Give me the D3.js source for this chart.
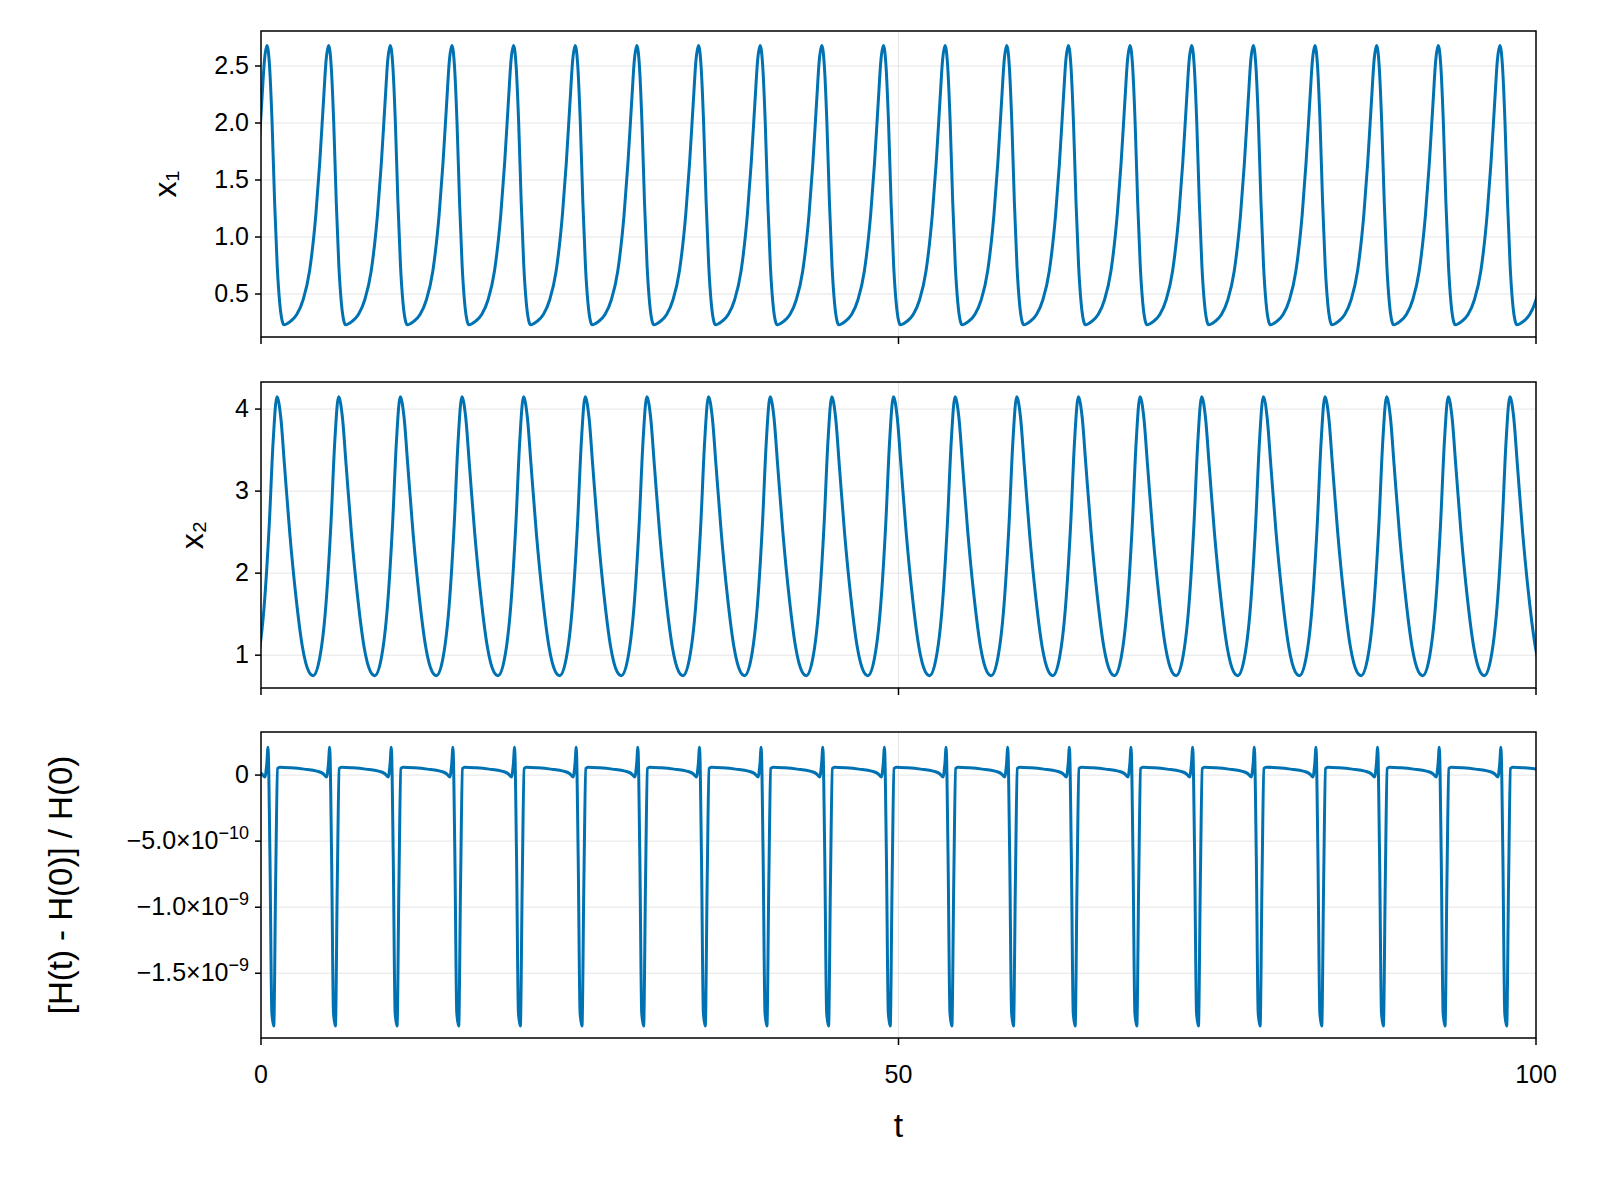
<!DOCTYPE html>
<html><head><meta charset="utf-8">
<script src="https://cdn.jsdelivr.net/npm/d3@7"></script>
<style>body{margin:0;background:#fff;font-family:"Liberation Sans",Arial,sans-serif}</style>
</head><body><svg id="chart"></svg>
<script>
// one measured cycle per series, offsets in t relative to each peak
const period = 4.835;
const x1Peaks0 = 0.47, x2Peaks0 = 1.25, hPeaks0 = 0.55, nCycles = 22;
const x1Off = [-3.5,-3,-2.5,-2,-1.5,-1,-0.7,-0.4,-0.2,0,0.2,0.4,0.6,0.8,1.0,1.2,1.335];
const x1Val = [0.23,0.26,0.32,0.45,0.7,1.2,1.65,2.2,2.55,2.68,2.5,2.0,1.3,0.75,0.42,0.26,0.23];
const x2Off = [-2.0,-1.5,-1,-0.6,-0.3,0,0.3,0.6,1,1.5,2,2.5,2.835];
const x2Val = [0.75,0.95,1.6,2.6,3.6,4.15,3.9,3.3,2.5,1.7,1.1,0.8,0.75];
const hOff = [-3.9,-3,-2,-1,-0.5,-0.25,-0.1,0,0.15,0.3,0.45,0.6,0.75,0.935];
const hVal = [0.6,0.55,0.45,0.3,0.1,-0.15,0.8,2.1,-6,-18,-19,-8,0.5,0.6].map(v => v*1e-10);
const xTicks = [0,50,100];
const x1Ticks = [0.5,1.0,1.5,2.0,2.5];
const x2Ticks = [1,2,3,4];
const hTicks = [0,-5e-10,-1e-9,-1.5e-9];
const hTickLabels = [["0",""],["−5.0×10","−10"],["−1.0×10","−9"],["−1.5×10","−9"]];

function series(p0, off, val) {
  let pts = [];
  for (let k = -1; k < nCycles; k++) {
    const pk = p0 + k*period;
    off.forEach((o,i) => { if (i > 0 || k === -1) pts.push({t: pk+o, v: val[i]}); });
  }
  return pts;
}

const W = 1600, H = 1200, left = 261, right = 1536;
const svg = d3.select("#chart").attr("width", W).attr("height", H);
const x = d3.scaleLinear().domain([0,100]).range([left,right]);
const color = "#0072b2";
svg.append("clipPath").attr("id","clip").append("rect")
  .attr("x", left).attr("y", 0).attr("width", right-left).attr("height", H);

const panels = [
  {top:31, bottom:337, dom:[0.123,2.807], ticks:x1Ticks, fmt:d=>[d.toFixed(1),""], data:series(x1Peaks0,x1Off,x1Val), label:"x₁", lsize:32, lx:176},
  {top:382, bottom:688, dom:[0.6,4.33], ticks:x2Ticks, fmt:d=>[String(d),""], data:series(x2Peaks0,x2Off,x2Val), label:"x₂", lsize:32, lx:203},
  {top:732, bottom:1038, dom:[-1.99e-9,3.26e-10], ticks:hTicks, fmt:(d,i)=>hTickLabels[i], data:series(hPeaks0,hOff,hVal), label:"[H(t) - H(0)] / H(0)", lsize:33, lx:72}
];

panels.forEach((p, pi) => {
  const y = d3.scaleLinear().domain(p.dom).range([p.bottom,p.top]);
  const g = svg.append("g");
  g.selectAll(".hg").data(p.ticks).join("line")
    .attr("x1", left).attr("x2", right).attr("y1", d=>y(d)).attr("y2", d=>y(d))
    .attr("stroke", "#e5e5e5").attr("stroke-width", 1);
  g.append("line").attr("x1", x(50)).attr("x2", x(50)).attr("y1", p.top).attr("y2", p.bottom)
    .attr("stroke", "#e5e5e5");
  g.append("path").datum(p.data.filter(d => d.t > -2 && d.t < 102))
    .attr("clip-path","url(#clip)")
    .attr("fill","none").attr("stroke",color).attr("stroke-width",3)
    .attr("d", d3.line().curve(d3.curveMonotoneX).x(d=>x(d.t)).y(d=>y(d.v)));
  g.append("rect").attr("x", left).attr("y", p.top).attr("width", right-left).attr("height", p.bottom-p.top)
    .attr("fill","none").attr("stroke","#000").attr("stroke-width",1.5);
  p.ticks.forEach((d,i) => {
    g.append("line").attr("x1", left-6).attr("x2", left).attr("y1", y(d)).attr("y2", y(d)).attr("stroke","#000").attr("stroke-width",1.5);
    const [a,b] = p.fmt(d,i);
    const t = g.append("text").attr("x", left-12).attr("y", y(d)+8).attr("text-anchor","end")
      .style("font-size","25px");
    t.append("tspan").text(a);
    if (b) t.append("tspan").attr("dy",-10).style("font-size","18px").text(b);
  });
  xTicks.forEach(d => {
    g.append("line").attr("x1", x(d)).attr("x2", x(d)).attr("y1", p.bottom).attr("y2", p.bottom+7).attr("stroke","#000").attr("stroke-width",1.5);
    if (pi === 2) g.append("text").attr("x", x(d)).attr("y", p.bottom+45).attr("text-anchor","middle")
      .style("font-size","25px").text(d);
  });
  g.append("text").attr("transform", `translate(${p.lx},${(p.top+p.bottom)/2}) rotate(-90)`)
    .attr("text-anchor","middle").style("font-size", p.lsize+"px").text(p.label);
});

svg.append("text").attr("x", (left+right)/2).attr("y", 1137).attr("text-anchor","middle")
  .style("font-size","34px").text("t");
</script>
</body></html>
